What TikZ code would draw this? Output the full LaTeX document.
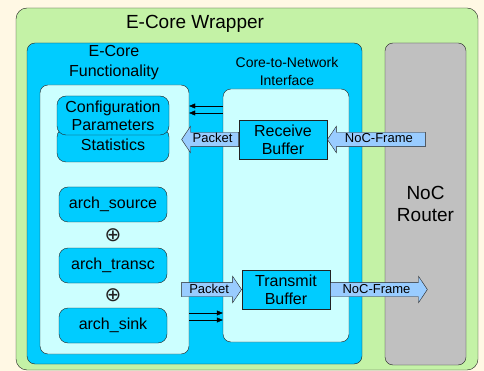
\documentclass[tikz,border=0pt]{standalone}
\usepackage{fontspec}
\setmainfont{Liberation Sans}
\newfontfamily\symfont{DejaVu Sans}
\usepackage{xcolor}
\definecolor{cCream}{HTML}{FFF8E4}
\definecolor{cGreen}{HTML}{C4F2A6}
\definecolor{cCyan}{HTML}{00CCFF}
\definecolor{cPale}{HTML}{CCFFFF}
\definecolor{cGrey}{HTML}{C0C0C0}
\definecolor{cFlow}{HTML}{99CCFF}
\definecolor{cLine}{HTML}{222222}
\usepackage{tikz}
\usetikzlibrary{positioning,arrows.meta,shapes.arrows,calc}
\tikzset{
  node-region/.style={draw=cLine,rounded corners=8pt,inner sep=0pt},
  node-wrap/.style={node-region,fill=cGreen,rounded corners=11pt},
  node-core/.style={node-region,fill=cCyan},
  node-pane/.style={node-region,fill=cPale},
  node-router/.style={node-region,fill=cGrey,align=center,
    font=\fontsize{19}{22}\selectfont},
  node-block/.style={draw=cLine,fill=cCyan,rounded corners=9pt,
    minimum width=108pt,minimum height=35pt,align=center,
    font=\fontsize{16}{18}\selectfont},
  node-buffer/.style={draw=cLine,fill=cCyan,minimum width=88pt,
    minimum height=39pt,align=center,inner sep=0pt,
    font=\fontsize{16}{18}\selectfont},
  node-title/.style={align=center,inner sep=0pt},
  node-plus/.style={inner sep=0pt,text=cLine,font=\fontsize{20}{20}\symfont},
  % block arrows carrying the packet / frame labels
  flow/.style={single arrow,draw=cLine,fill=cFlow,inner xsep=0pt,
    inner ysep=1.5pt,single arrow head extend=6pt,
    single arrow tip angle=112,text height=9pt,text depth=2pt,
    font=\fontsize{13}{15}\selectfont},
  flow-left/.style={flow,shape border rotate=180},
  arrow/.style={-{Triangle[length=6pt,width=5pt]},draw=black},
}
\begin{document}
\begin{tikzpicture}[x=1pt,y=-1pt]
  \fill[cCream] (0,0) rectangle (484,371);
  \useasboundingbox (0,0) rectangle (484,371);
  \node[node-wrap,minimum width=462pt,minimum height=362pt] (wrap) at (247,189) {};
  \node[node-title,font=\fontsize{19}{22}\selectfont] (wraptitle) at (195,24) {E-Core Wrapper};
  \node[node-core,minimum width=335pt,minimum height=321pt] (core) at (194.5,203.5) {};
  \node[node-router,minimum width=81pt,minimum height=322pt] (router) at (425.5,204) {NoC\\Router};
  \node[node-title,font=\fontsize{16}{20}\selectfont] (functitle) at (114,63) {E-Core\\Functionality};
  \node[node-title,font=\fontsize{14}{18}\selectfont] (ifacetitle) at (287,71) {Core-to-Network\\Interface};
  \node[node-pane,minimum width=149pt,minimum height=269pt] (func) at (114.5,219.5) {};
  \node[node-pane,minimum width=126pt,minimum height=253pt] (iface) at (286,215.5) {};

  \node[node-block,minimum width=112pt,minimum height=34pt] (stats) at (113,145) {Statistics};
  \node[node-block,minimum width=112pt,minimum height=39pt,inner sep=0pt] (cfg) at (113,115.5) {Configuration\\Parameters};
  \node[node-block] (src) at (113,204.5) {arch\_source};
  \node[node-block] (transc) at (113,265.5) {arch\_transc};
  \node[node-block] (sink) at (113,325.5) {arch\_sink};
  \node[node-plus] (plus1) at ($(src)!.5!(transc)$) {⊕};
  \node[node-plus] (plus2) at ($(transc)!.5!(sink)$) {⊕};

  \node[node-buffer] (rxbuf) at (283,139.5) {Receive\\Buffer};
  \node[node-buffer] (txbuf) at (286,289.5) {Transmit\\Buffer};

  \node[flow-left,minimum height=98pt,anchor=tip] (rxframe) at (rxbuf.east) {NoC-Frame};
  \node[flow-left,minimum height=57pt,anchor=tail] (rxpacket) at (rxbuf.west) {Packet};
  \node[flow,minimum height=60pt,anchor=tip] (txpacket) at (txbuf.west) {Packet};
  \node[flow,minimum height=97pt,anchor=tail] (txframe) at (txbuf.east) {NoC-Frame};

  \draw[arrow] (iface.west |- 0,106) -- (func.east |- 0,106);
  \draw[arrow] (iface.west |- 0,113) -- (func.east |- 0,113);
  \draw[arrow] (func.east |- 0,313) -- (iface.west |- 0,313);
  \draw[arrow] (func.east |- 0,320) -- (iface.west |- 0,320);
\end{tikzpicture}
\end{document}
